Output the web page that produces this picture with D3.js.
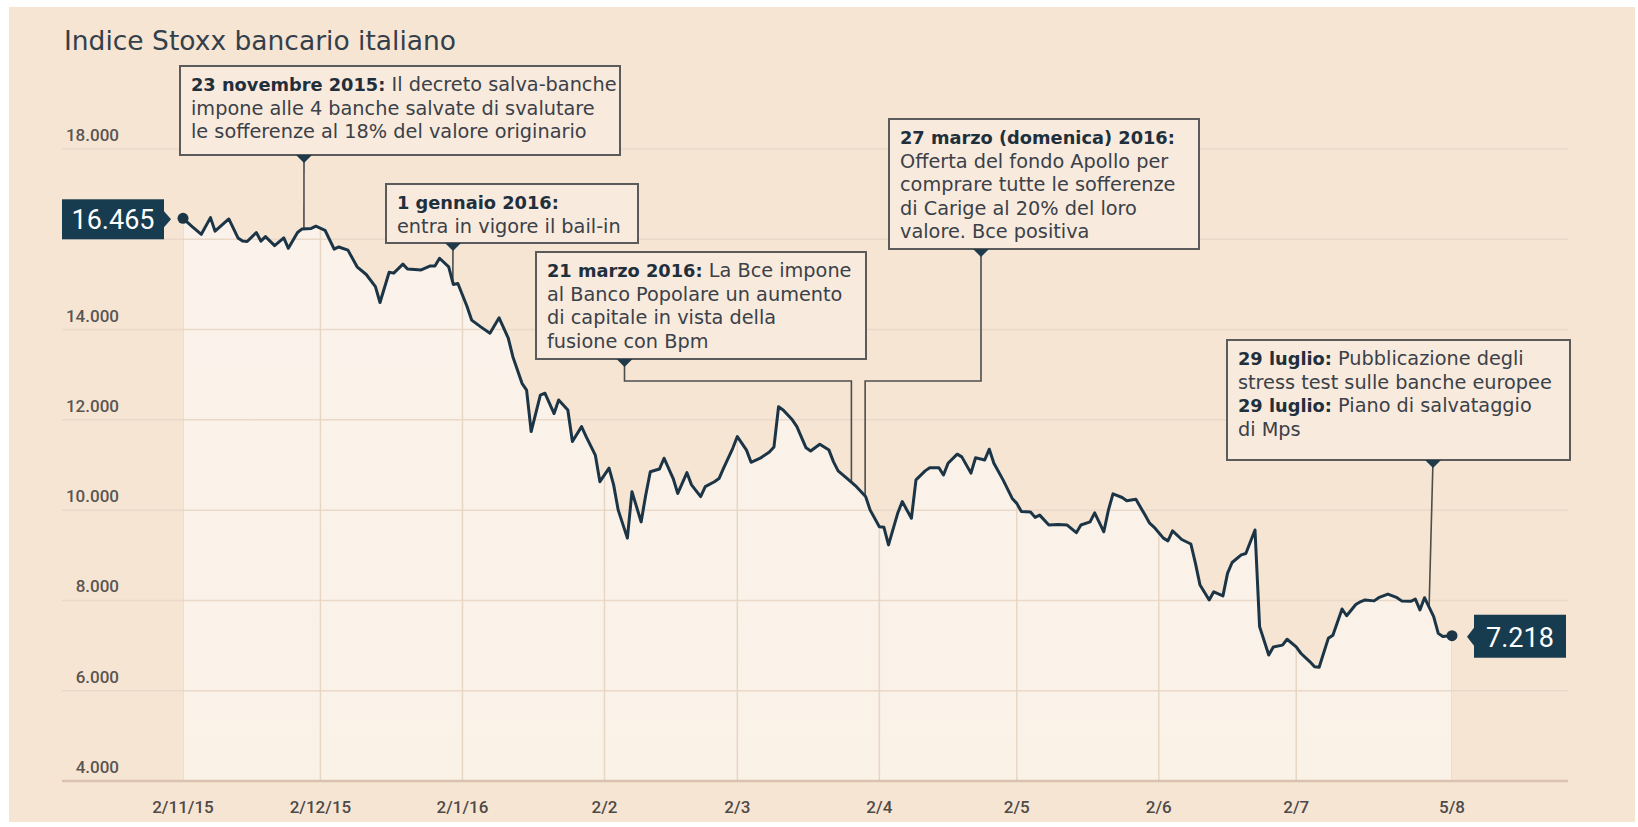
<!DOCTYPE html>
<html><head><meta charset="utf-8">
<script src="https://cdn.jsdelivr.net/npm/d3@7"></script>
<style>html,body{margin:0;padding:0;background:#fff;}svg{display:block;}</style>
</head><body>
<script>
// ---- data ----
const startDate = "2015-11-02";
const days = [0,2,4,6,7,10,12,13,14,16,17,18,20,22,23,25,26,28,29,31,33,34,36,38,40,42,43,45,46,48,49,52,54,55,56,58,59,60,62,63,65,67,69,71,72,74,75,76,78,79,81,82,84,85,87,88,90,91,93,94,95,97,98,100,101,102,104,105,107,108,110,111,113,114,116,117,118,120,121,123,124,126,128,129,130,131,133,134,136,137,139,141,142,143,145,147,149,150,152,153,154,156,157,159,160,162,163,165,166,167,169,170,172,173,175,176,177,179,181,182,183,185,186,187,189,191,193,195,196,198,199,201,202,203,205,206,208,210,211,212,214,215,216,218,220,221,222,224,225,227,228,229,231,232,234,235,237,238,240,241,243,244,246,247,248,250,251,253,254,256,257,258,260,261,263,265,266,268,269,270,271,273,274,275,276,277];
const values = [16465,16280,16110,16480,16180,16450,16030,15960,15950,16150,15960,16060,15860,16030,15800,16150,16230,16240,16290,16200,15780,15830,15760,15390,15220,14950,14600,15270,15250,15450,15340,15320,15410,15410,15580,15390,15000,15020,14510,14210,14060,13920,14260,13810,13400,12810,12660,11740,12550,12590,12140,12440,12220,11520,11850,11630,11220,10630,10930,10560,10000,9380,10410,9740,10330,10850,10910,11150,10700,10370,10830,10560,10300,10520,10630,10700,10930,11370,11630,11330,11060,11150,11290,11400,12290,12220,12000,11850,11380,11310,11460,11330,11070,10870,10700,10520,10300,10000,9630,9620,9230,9930,10190,9820,10670,10870,10940,10940,10780,11040,11240,11180,10820,11160,11110,11350,11040,10670,10260,10150,9970,9960,9840,9890,9670,9680,9670,9500,9670,9740,9940,9520,10000,10360,10280,10210,10240,9890,9710,9620,9380,9320,9540,9350,9250,8820,8340,8010,8190,8100,8600,8840,9010,9040,9560,7420,6790,6970,7010,7140,6970,6830,6640,6530,6520,7160,7230,7810,7660,7910,7970,8010,7990,8060,8140,8060,7990,7980,8030,7790,8060,7640,7270,7200,7210,7218];
const tickDays = [0,30,61,92,121,152,182,213,243,277];
const tickLabels = ["2/11/15","2/12/15","2/1/16","2/2","2/3","2/4","2/5","2/6","2/7","5/8"];
const yTicks = [4000,6000,8000,10000,12000,14000,16000,18000];
const yLabelTicks = [4000,6000,8000,10000,12000,14000,18000]; // 16.000 is hidden behind the start label
const title = "Indice Stoxx bancario italiano";
const startLabel = "16.465", endLabel = "7.218";

// annotations: text lines (bold prefix + regular) and layout
const annotations = [
  {lines:[["23 novembre 2015:"," Il decreto salva-banche"],["","impone alle 4 banche salvate di svalutare"],["","le sofferenze al 18% del valore originario"]],
   box:[180,66,440,89], tri:304, anchorDay:26.4},
  {lines:[["1 gennaio 2016:",""],["","entra in vigore il bail-in"]],
   box:[386,184,252,59], tri:453, anchorDay:58.9},
  {lines:[["21 marzo 2016:"," La Bce impone"],["","al Banco Popolare un aumento"],["","di capitale in vista della"],["","fusione con Bpm"]],
   box:[536,252,330,107], tri:624.5, elbowY:381, anchorDay:145.9},
  {lines:[["27 marzo (domenica) 2016:",""],["","Offerta del fondo Apollo per"],["","comprare tutte le sofferenze"],["","di Carige al 20% del loro"],["","valore. Bce positiva"]],
   box:[889,119,310,130], tri:981, elbowY:381, anchorDay:148.9},
  {lines:[["29 luglio:"," Pubblicazione degli"],["","stress test sulle banche europee"],["29 luglio:"," Piano di salvataggio"],["","di Mps"]],
   box:[1227,340,343,120], tri:1433, anchorDay:272.0}
];

// ---- drawing ----
const W = 1638, H = 827;
const svg = d3.select("body").append("svg").attr("width", W).attr("height", H);
const x = d3.scaleLinear().domain([0, 277]).range([183, 1452]);
const y = d3.scaleLinear().domain([4000, 18000]).range([781, 149]);
const fmt = d3.formatLocale({decimal:",", thousands:".", grouping:[3], currency:["","€"]}).format(",d");
const data = days.map((d,i)=>({d, v:values[i]}));
const vAt = day => {
  const i = d3.bisectLeft(days, day);
  if (i <= 0) return values[0];
  if (i >= days.length) return values[values.length-1];
  const t = (day - days[i-1]) / (days[i] - days[i-1]);
  return values[i-1] + (values[i] - values[i-1]) * t;
};

const defs = svg.append("defs");
const bgGrad = defs.append("linearGradient").attr("id","areaGrad").attr("x1",0).attr("x2",0).attr("y1",0).attr("y2",1);
bgGrad.append("stop").attr("offset","0%").attr("stop-color","#fbf3eb");
bgGrad.append("stop").attr("offset","100%").attr("stop-color","#faf1e7");

svg.append("rect").attr("x",0).attr("y",0).attr("width",W).attr("height",H).attr("fill","#ffffff");
svg.append("rect").attr("x",9).attr("y",7).attr("width",W-12).attr("height",H-12).attr("fill","#f7e5d4");

const area = d3.area().x(p=>x(p.d)).y0(y(4000)).y1(p=>y(p.v));
defs.append("clipPath").attr("id","under").append("path").attr("d", area(data));
svg.append("path").attr("d", area(data)).attr("fill","url(#areaGrad)");

// horizontal grid
svg.append("g").selectAll("line").data(yTicks.filter(t=>t>4000)).join("line")
  .attr("x1",62).attr("x2",1568).attr("y1",d=>y(d)).attr("y2",d=>y(d))
  .attr("stroke","#ead9c8").attr("stroke-width",1.5);
// vertical grid clipped under the curve
svg.append("g").attr("clip-path","url(#under)").selectAll("line").data(tickDays).join("line")
  .attr("x1",d=>x(d)).attr("x2",d=>x(d)).attr("y1",y(4000)).attr("y2",y(18000)-20)
  .attr("stroke","#e8d6c5").attr("stroke-width",1.5);
// baseline
svg.append("line").attr("x1",62).attr("x2",1568).attr("y1",y(4000)).attr("y2",y(4000))
  .attr("stroke","#d9c3af").attr("stroke-width",2.5);

// y labels
svg.append("g").selectAll("text").data(yLabelTicks).join("text")
  .attr("x",119).attr("y",d=>y(d)-8).attr("text-anchor","end")
  .attr("font-family","Roboto, sans-serif").attr("font-size",17).attr("font-weight",500)
  .attr("fill","#5a5652").text(d=>fmt(d));
// x labels
svg.append("g").selectAll("text").data(tickDays).join("text")
  .attr("x",d=>x(d)).attr("y",813).attr("text-anchor","middle")
  .attr("font-family","Roboto, sans-serif").attr("font-size",17).attr("font-weight",500)
  .attr("fill","#4e4a47").text((d,i)=>tickLabels[i]);

// title
svg.append("text").attr("x",64).attr("y",50).attr("font-family","'DejaVu Sans', sans-serif")
  .attr("font-size",26.5).attr("fill","#33404a").text(title);

// annotations
const ag = svg.append("g");
annotations.forEach(a=>{
  const [bx,by,bw,bh] = a.box;
  const ax = x(a.anchorDay), ay = y(vAt(a.anchorDay));
  let pts;
  if (a.elbowY) pts = [[a.tri,by+bh],[a.tri,a.elbowY],[ax,a.elbowY],[ax,ay]];
  else pts = [[a.tri,by+bh],[ax,ay]];
  ag.append("path").attr("d", d3.line()(pts)).attr("fill","none").attr("stroke","#4d4d4d").attr("stroke-width",1.6);
  ag.append("rect").attr("x",bx).attr("y",by).attr("width",bw).attr("height",bh)
    .attr("fill","#f8eadd").attr("stroke","#5b5b5b").attr("stroke-width",2);
  ag.append("path").attr("d",`M${a.tri-8},${by+bh}L${a.tri+8},${by+bh}L${a.tri},${by+bh+8}Z`).attr("fill","#1e3a4b");
  a.lines.forEach((ln,i)=>{
    const ty = by + 25 + i*23.5;
    const t = ag.append("text").attr("x",bx+11).attr("y",ty)
      .attr("font-family","'DejaVu Sans', sans-serif").attr("font-size",19.3).attr("fill","#3b4148");
    if (ln[0]) t.append("tspan").attr("font-weight",700).attr("font-size",17.8).attr("fill","#1f2f3b").text(ln[0]);
    if (ln[1]) t.append("tspan").text(ln[1]);
  });
});

// line
svg.append("path").attr("d", d3.line().x(p=>x(p.d)).y(p=>y(p.v))(data))
  .attr("fill","none").attr("stroke","#1b3546").attr("stroke-width",3).attr("stroke-linejoin","round");

// endpoints
const first = data[0], last = data[data.length-1];
[first,last].forEach(p=>svg.append("circle").attr("cx",x(p.d)).attr("cy",y(p.v)).attr("r",5.5).attr("fill","#1b3546"));
// start label box
const sy = y(first.v);
svg.append("rect").attr("x",62).attr("y",sy-19).attr("width",102).attr("height",40).attr("fill","#173c50");
svg.append("path").attr("d",`M164,${sy-7}L171,${sy+1}L164,${sy+9}Z`).attr("fill","#173c50");
svg.append("text").attr("x",113).attr("y",sy+11).attr("text-anchor","middle").attr("font-family","Roboto, sans-serif")
  .attr("font-size",27).attr("fill","#ffffff").text(startLabel);
// end label box
const ey = y(last.v);
svg.append("rect").attr("x",1474).attr("y",ey-21).attr("width",92).attr("height",43).attr("fill","#173c50");
svg.append("path").attr("d",`M1474,${ey-8}L1467,${ey+1}L1474,${ey+10}Z`).attr("fill","#173c50");
svg.append("text").attr("x",1520).attr("y",ey+11).attr("text-anchor","middle").attr("font-family","Roboto, sans-serif")
  .attr("font-size",27).attr("fill","#ffffff").text(endLabel);
</script>
</body></html>
